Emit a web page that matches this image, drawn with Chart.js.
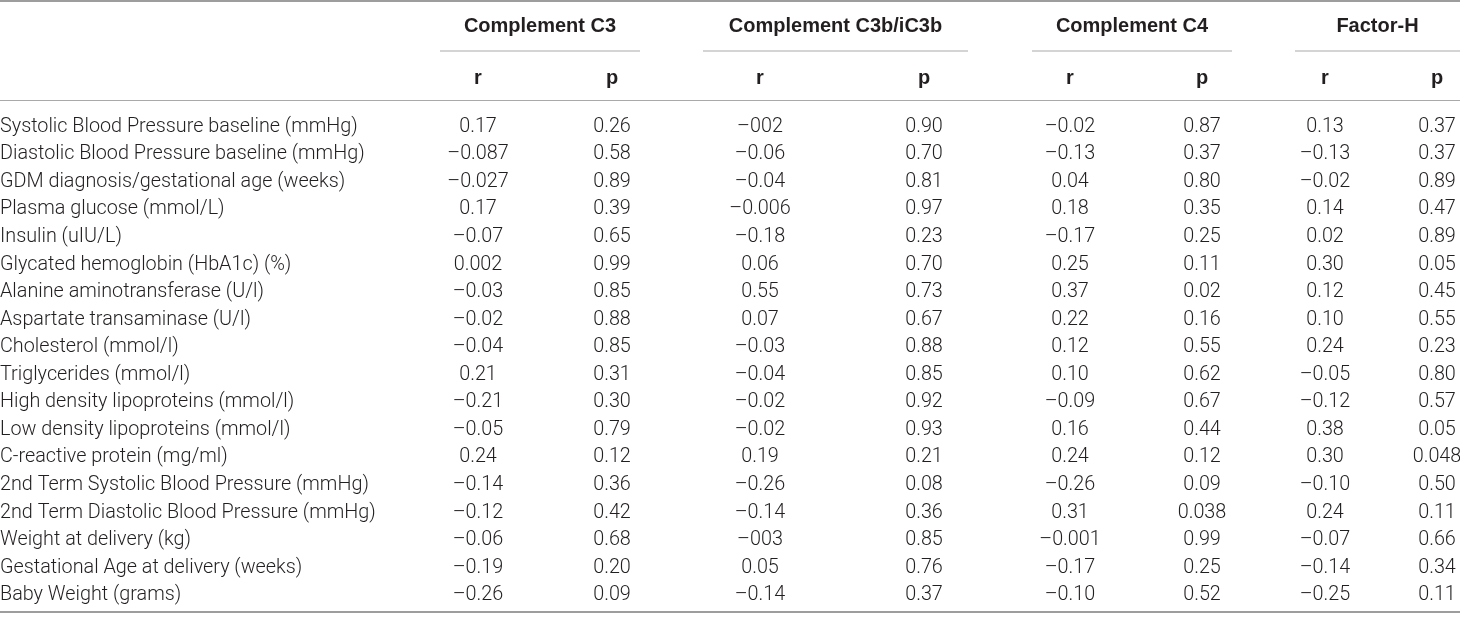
<!DOCTYPE html>
<html>
<head>
<meta charset="utf-8">
<script src="https://cdn.jsdelivr.net/npm/chart.js@4"></script>
<style>
  html, body { margin: 0; padding: 0; background: #ffffff; }
  #wrap { width: 1460px; height: 618px; position: relative; }
</style>
</head>
<body>
<div id="wrap"><canvas id="corrTable"></canvas></div>
<script>
// Table content (values kept as printed, including the source's typos)
const rowLabels = [
    'Systolic Blood Pressure baseline (mmHg)',
    'Diastolic Blood Pressure baseline (mmHg)',
    'GDM diagnosis/gestational age (weeks)',
    'Plasma glucose (mmol/L)',
    'Insulin (uIU/L)',
    'Glycated hemoglobin (HbA1c) (%)',
    'Alanine aminotransferase (U/l)',
    'Aspartate transaminase (U/l)',
    'Cholesterol (mmol/l)',
    'Triglycerides (mmol/l)',
    'High density lipoproteins (mmol/l)',
    'Low density lipoproteins (mmol/l)',
    'C-reactive protein (mg/ml)',
    '2nd Term Systolic Blood Pressure (mmHg)',
    '2nd Term Diastolic Blood Pressure (mmHg)',
    'Weight at delivery (kg)',
    'Gestational Age at delivery (weeks)',
    'Baby Weight (grams)'
];

const groupNames = ['Complement C3', 'Complement C3b/iC3b', 'Complement C4', 'Factor-H'];
const statNames = ['r', 'p'];

const c3R  = ['0.17', '–0.087', '–0.027', '0.17', '–0.07', '0.002', '–0.03', '–0.02', '–0.04', '0.21', '–0.21', '–0.05', '0.24', '–0.14', '–0.12', '–0.06', '–0.19', '–0.26'];
const c3P  = ['0.26', '0.58', '0.89', '0.39', '0.65', '0.99', '0.85', '0.88', '0.85', '0.31', '0.30', '0.79', '0.12', '0.36', '0.42', '0.68', '0.20', '0.09'];
const c3bR = ['–002', '–0.06', '–0.04', '–0.006', '–0.18', '0.06', '0.55', '0.07', '–0.03', '–0.04', '–0.02', '–0.02', '0.19', '–0.26', '–0.14', '–003', '0.05', '–0.14'];
const c3bP = ['0.90', '0.70', '0.81', '0.97', '0.23', '0.70', '0.73', '0.67', '0.88', '0.85', '0.92', '0.93', '0.21', '0.08', '0.36', '0.85', '0.76', '0.37'];
const c4R  = ['–0.02', '–0.13', '0.04', '0.18', '–0.17', '0.25', '0.37', '0.22', '0.12', '0.10', '–0.09', '0.16', '0.24', '–0.26', '0.31', '–0.001', '–0.17', '–0.10'];
const c4P  = ['0.87', '0.37', '0.80', '0.35', '0.25', '0.11', '0.02', '0.16', '0.55', '0.62', '0.67', '0.44', '0.12', '0.09', '0.038', '0.99', '0.25', '0.52'];
const fhR  = ['0.13', '–0.13', '–0.02', '0.14', '0.02', '0.30', '0.12', '0.10', '0.24', '–0.05', '–0.12', '0.38', '0.30', '–0.10', '0.24', '–0.07', '–0.14', '–0.25'];
const fhP  = ['0.37', '0.37', '0.89', '0.47', '0.89', '0.05', '0.45', '0.55', '0.23', '0.80', '0.57', '0.05', '0.048', '0.50', '0.11', '0.66', '0.34', '0.11'];

const valueColumns = [c3R, c3P, c3bR, c3bP, c4R, c4P, fhR, fhP];

// Layout of the table (page units along the x scale)
const layout = {
    columnCenters: [478, 612, 760, 924, 1070, 1202, 1325, 1437],
    groupSpans: [[440, 640], [703, 968], [1032, 1232], [1295, 1460]],
    groupY: 26,
    groupRuleY: 51,
    statY: 78,
    headRuleY: 100.5,
    topRuleY: 1,
    bottomRuleY: 612
};

const textColor = '#231f20';
const ruleColor = '#9d9d9d';
const bodyFont = '300 19.8px Roboto';
const headFont = 'bold 20px "Liberation Sans"';

const datasets = valueColumns.map((col, c) => ({
    label: groupNames[Math.floor(c / 2)] + ' ' + statNames[c % 2],
    data: col.map((v, i) => ({ x: layout.columnCenters[c], y: rowLabels[i], text: v })),
    pointRadius: 0,
    pointHoverRadius: 0
}));

const tablePlugin = {
    id: 'tableText',
    afterDatasetsDraw(chart) {
        const ctx = chart.ctx;
        const xs = chart.scales.x;
        const ys = chart.scales.y;
        ctx.save();

        // rules
        ctx.strokeStyle = ruleColor;
        ctx.lineWidth = 2;
        [layout.topRuleY, layout.bottomRuleY].forEach(y => {
            ctx.beginPath();
            ctx.moveTo(0, y);
            ctx.lineTo(chart.width, y);
            ctx.stroke();
        });
        ctx.lineWidth = 1.2;
        ctx.strokeStyle = '#a9a9a9';
        ctx.beginPath();
        ctx.moveTo(0, layout.headRuleY);
        ctx.lineTo(chart.width, layout.headRuleY);
        ctx.stroke();
        layout.groupSpans.forEach(span => {
            ctx.beginPath();
            ctx.moveTo(xs.getPixelForValue(span[0]), layout.groupRuleY);
            ctx.lineTo(xs.getPixelForValue(span[1]), layout.groupRuleY);
            ctx.stroke();
        });

        // header text
        ctx.fillStyle = textColor;
        ctx.font = headFont;
        ctx.textAlign = 'center';
        ctx.textBaseline = 'middle';
        layout.groupSpans.forEach((span, g) => {
            const mid = (xs.getPixelForValue(span[0]) + xs.getPixelForValue(span[1])) / 2;
            ctx.fillText(groupNames[g], mid, layout.groupY);
        });
        layout.columnCenters.forEach((cx, c) => {
            ctx.fillText(statNames[c % 2], xs.getPixelForValue(cx), layout.statY);
        });

        // row labels
        ctx.font = bodyFont;
        ctx.textAlign = 'left';
        rowLabels.forEach((lab, i) => {
            ctx.fillText(lab, 0, ys.getPixelForValue(i));
        });

        // cell values, placed at each point the library laid out
        ctx.textAlign = 'center';
        chart.data.datasets.forEach((ds, d) => {
            const meta = chart.getDatasetMeta(d);
            meta.data.forEach((pt, i) => {
                ctx.fillText(ds.data[i].text, pt.x, pt.y);
            });
        });
        ctx.restore();
    }
};

new Chart(document.getElementById('corrTable'), {
    type: 'scatter',
    data: { datasets: datasets },
    options: {
        responsive: true,
        maintainAspectRatio: false,
        animation: false,
        devicePixelRatio: 1,
        layout: { padding: { top: 113, bottom: 9, left: 0, right: 0 } },
        scales: {
            x: { type: 'linear', min: 0, max: 1460, display: false },
            y: { type: 'category', labels: rowLabels, offset: true, display: false }
        },
        plugins: {
            legend: { display: false },
            tooltip: { enabled: false }
        },
        events: []
    },
    plugins: [tablePlugin]
});
</script>
</body>
</html>
